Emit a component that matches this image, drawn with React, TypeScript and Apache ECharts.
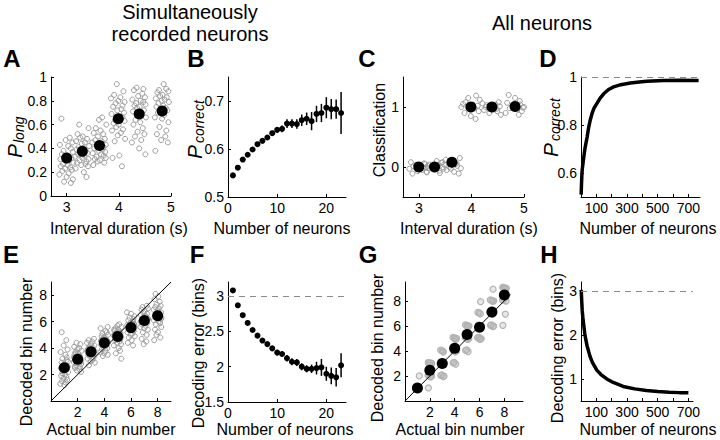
import React, { useEffect, useRef } from 'react';
import * as echarts from 'echarts';

const FONT = 'Liberation Sans, Arial, Helvetica, sans-serif';

// ---------- Panel A: P(long) per interval, simultaneously recorded ----------
const A_intervals = [3.0, 3.3, 3.63, 3.99, 4.39, 4.83];
const A_means = [0.32, 0.375, 0.425, 0.65, 0.69, 0.715];
const A_jitter = [-0.10, 0.06, -0.02, 0.11, -0.13, 0.03, 0.08, -0.06, 0.12, -0.09, 0.01, -0.04, 0.09, -0.12, 0.05, -0.01, 0.13, -0.07, 0.02, -0.11, 0.07, -0.03, 0.10, -0.08, 0.04, -0.14, 0.00, 0.12, -0.05, 0.08];
const A_trials = [
  [0.65, 0.49, 0.47, 0.45, 0.43, 0.42, 0.40, 0.38, 0.37, 0.35, 0.34, 0.33, 0.32, 0.31, 0.30, 0.29, 0.28, 0.27, 0.26, 0.25, 0.24, 0.23, 0.22, 0.21, 0.19, 0.18, 0.16, 0.14, 0.12, 0.11],
  [0.60, 0.57, 0.52, 0.50, 0.49, 0.48, 0.46, 0.45, 0.44, 0.42, 0.41, 0.40, 0.39, 0.38, 0.37, 0.36, 0.35, 0.34, 0.33, 0.32, 0.31, 0.30, 0.29, 0.28, 0.27, 0.26, 0.25, 0.23, 0.20, 0.16],
  [0.66, 0.64, 0.60, 0.57, 0.55, 0.53, 0.52, 0.50, 0.48, 0.47, 0.46, 0.45, 0.44, 0.43, 0.42, 0.41, 0.40, 0.39, 0.38, 0.37, 0.36, 0.35, 0.34, 0.33, 0.32, 0.31, 0.30, 0.29, 0.28, 0.26],
  [0.94, 0.88, 0.85, 0.83, 0.82, 0.80, 0.79, 0.78, 0.76, 0.75, 0.73, 0.72, 0.70, 0.69, 0.67, 0.66, 0.64, 0.63, 0.61, 0.60, 0.58, 0.56, 0.55, 0.53, 0.51, 0.48, 0.46, 0.34, 0.32, 0.25],
  [0.91, 0.90, 0.89, 0.86, 0.84, 0.83, 0.81, 0.80, 0.79, 0.78, 0.77, 0.76, 0.75, 0.74, 0.72, 0.71, 0.70, 0.68, 0.66, 0.64, 0.62, 0.60, 0.57, 0.54, 0.52, 0.50, 0.47, 0.45, 0.40, 0.35],
  [0.94, 0.90, 0.89, 0.88, 0.87, 0.85, 0.84, 0.83, 0.82, 0.81, 0.80, 0.79, 0.78, 0.76, 0.75, 0.74, 0.73, 0.72, 0.70, 0.68, 0.66, 0.65, 0.62, 0.58, 0.55, 0.52, 0.50, 0.47, 0.45, 0.38],
];

// ---------- Panel B: P(correct) vs number of neurons ----------
const B_n = [1, 2, 3, 4, 5, 6, 7, 8, 9, 10, 11, 12, 13, 14, 15, 16, 17, 18, 19, 20, 21, 22, 23];
const B_mean = [0.545, 0.561, 0.578, 0.588, 0.599, 0.61, 0.617, 0.624, 0.633, 0.64, 0.642, 0.653, 0.653, 0.652, 0.66, 0.663, 0.658, 0.673, 0.675, 0.686, 0.683, 0.683, 0.675];
const B_err = [0.002, 0.002, 0.003, 0.003, 0.004, 0.004, 0.005, 0.005, 0.005, 0.006, 0.007, 0.009, 0.009, 0.01, 0.012, 0.013, 0.019, 0.017, 0.019, 0.022, 0.021, 0.02, 0.044];

// ---------- Panel C: classification, all neurons ----------
const C_means = [0.0, 0.0, 0.08, 1.0, 1.0, 1.01];
const C_err = [0.01, 0.01, 0.06, 0.01, 0.01, 0.01];
const C_jitter = [-0.15, 0.10, -0.05, 0.17, -0.10, 0.04, 0.13, -0.18, 0.07, -0.02, 0.15, -0.12, 0.00, 0.09];
const C_trials = [
  [0.08, 0.06, 0.04, 0.02, 0.01, 0.0, -0.01, -0.03, -0.05, -0.07, -0.09, -0.11, 0.03, -0.02],
  [0.10, 0.07, 0.05, 0.03, 0.02, 0.0, -0.02, -0.04, -0.06, -0.08, -0.10, 0.01, -0.03, 0.04],
  [0.15, 0.12, 0.10, 0.06, 0.04, 0.02, 0.0, -0.02, -0.05, -0.08, -0.11, 0.08, 0.05, -0.03],
  [1.19, 1.15, 1.12, 1.08, 1.04, 1.02, 1.0, 0.98, 0.96, 0.93, 0.90, 0.85, 0.80, 1.05],
  [1.08, 1.06, 1.04, 1.02, 1.01, 1.0, 0.99, 0.97, 0.95, 0.93, 0.90, 0.87, 1.03, 0.96],
  [1.20, 1.15, 1.10, 1.07, 1.04, 1.02, 1.0, 0.98, 0.96, 0.93, 0.90, 0.87, 1.05, 0.99],
];

// ---------- Panel D: P(correct) vs number of neurons, all neurons ----------
const D_n = [1, 2, 3, 4, 6, 8, 11, 14, 17, 22, 28, 34, 40, 50, 60, 72, 85, 104, 125, 148, 180, 213, 260, 322, 380, 430, 539, 648, 767];
const D_p = [0.51, 0.53, 0.55, 0.565, 0.595, 0.615, 0.63, 0.645, 0.66, 0.685, 0.71, 0.73, 0.75, 0.79, 0.82, 0.848, 0.87, 0.89, 0.912, 0.93, 0.948, 0.959, 0.968, 0.975, 0.979, 0.982, 0.985, 0.986, 0.985];

// ---------- Panel E: decoded bin, simultaneously recorded ----------
const E_bins = [1, 2, 3, 4, 5, 6, 7, 8];
const E_means = [2.52, 3.15, 3.73, 4.4, 4.88, 5.55, 6.08, 6.45];
const E_jitter = [-0.20, 0.15, -0.05, 0.25, -0.28, 0.08, 0.18, -0.14, 0.27, -0.20, 0.02, -0.09, 0.20, -0.26, 0.11, -0.02, 0.29, -0.16, 0.05, -0.24, 0.15, -0.07, 0.22, -0.18, 0.09, -0.30, 0.00, 0.26, -0.11, 0.17];
const E_trials = [
  [5.2, 4.6, 4.2, 3.9, 3.7, 3.5, 3.3, 3.2, 3.0, 2.9, 2.8, 2.7, 2.6, 2.5, 2.4, 2.3, 2.2, 2.1, 2.0, 1.9, 1.8, 1.7, 1.6, 1.5, 1.4, 1.3, 1.2, 2.6, 2.3, 3.1],
  [4.4, 4.3, 4.1, 4.0, 3.9, 3.8, 3.7, 3.6, 3.5, 3.4, 3.3, 3.2, 3.1, 3.0, 2.95, 2.9, 2.8, 2.7, 2.6, 2.5, 2.4, 2.3, 2.2, 3.3, 3.1, 2.9, 3.6, 3.0, 2.6, 3.4],
  [4.7, 4.6, 4.5, 4.4, 4.3, 4.2, 4.1, 4.0, 3.95, 3.9, 3.85, 3.8, 3.75, 3.7, 3.65, 3.6, 3.55, 3.5, 3.45, 3.4, 3.3, 3.2, 3.1, 3.0, 2.9, 2.7, 3.8, 3.9, 3.6, 4.0],
  [5.6, 5.5, 5.3, 5.2, 5.1, 5.0, 4.9, 4.8, 4.7, 4.6, 4.55, 4.5, 4.45, 4.4, 4.35, 4.3, 4.25, 4.2, 4.1, 4.0, 3.9, 3.8, 3.7, 3.6, 3.5, 3.4, 4.4, 4.6, 4.2, 4.8],
  [5.8, 5.7, 5.6, 5.5, 5.4, 5.3, 5.2, 5.15, 5.1, 5.05, 5.0, 4.95, 4.9, 4.85, 4.8, 4.7, 4.6, 4.5, 4.4, 4.3, 4.2, 4.0, 3.8, 3.6, 3.2, 5.0, 5.2, 4.9, 4.7, 5.4],
  [6.7, 6.6, 6.4, 6.3, 6.2, 6.1, 6.0, 5.9, 5.8, 5.75, 5.7, 5.65, 5.6, 5.55, 5.5, 5.45, 5.4, 5.3, 5.2, 5.1, 5.0, 4.9, 4.8, 4.6, 4.4, 4.2, 5.6, 5.8, 5.4, 6.0],
  [7.2, 7.1, 7.0, 6.9, 6.8, 6.7, 6.6, 6.5, 6.4, 6.3, 6.2, 6.15, 6.1, 6.05, 6.0, 5.95, 5.9, 5.8, 5.7, 5.6, 5.5, 5.4, 5.2, 5.0, 4.7, 4.5, 4.3, 6.2, 6.0, 6.4],
  [8.1, 7.9, 7.7, 7.5, 7.3, 7.2, 7.1, 7.0, 6.9, 6.8, 6.7, 6.6, 6.5, 6.45, 6.4, 6.3, 6.2, 6.1, 6.0, 5.9, 5.8, 5.6, 5.4, 5.2, 5.0, 4.8, 4.6, 6.5, 6.7, 6.3],
];
const E_diag = [[0, 0], [9, 9]];

// ---------- Panel F: decoding error vs number of neurons ----------
const F_n = [1, 2, 3, 4, 5, 6, 7, 8, 9, 10, 11, 12, 13, 14, 15, 16, 17, 18, 19, 20, 21, 22, 23];
const F_mean = [3.08, 2.87, 2.73, 2.62, 2.52, 2.44, 2.37, 2.32, 2.26, 2.2, 2.18, 2.12, 2.07, 2.06, 2.0, 1.97, 1.97, 1.98, 1.99, 1.9, 1.87, 1.85, 2.02];
const F_err = [0.01, 0.01, 0.015, 0.02, 0.02, 0.025, 0.03, 0.03, 0.035, 0.04, 0.04, 0.045, 0.05, 0.05, 0.05, 0.05, 0.06, 0.09, 0.12, 0.1, 0.12, 0.13, 0.17];
const F_chance = 3;

// ---------- Panel G: decoded bin, all neurons ----------
const G_means = [1.03, 2.46, 3.0, 4.22, 5.3, 5.89, 7.1, 8.46];
const G_decoded = [
  [1, 1, 1, 1, 1, 1, 1, 1, 1, 2],
  [1, 2, 2, 2, 2, 2, 3, 3, 3, 3, 3, 3, 3],
  [2, 2, 2, 2, 3, 3, 3, 3, 3, 3, 4, 4, 4, 4],
  [3, 3, 3, 4, 4, 4, 4, 4, 5, 5, 5, 5, 5, 5],
  [4, 4, 4, 5, 5, 5, 5, 5, 6, 6, 6, 6, 6, 6],
  [5, 5, 5, 5, 5, 5, 6, 6, 6, 6, 7, 7, 7, 8],
  [6, 6, 6, 6, 7, 7, 7, 7, 7, 8, 8, 8, 8, 9],
  [6, 7, 8, 8, 8, 9, 9, 9, 9, 9, 9, 9, 9, 9],
];
const G_jx = [-0.12, 0.08, -0.04, 0.14, -0.15, 0.04, 0.11, -0.08, 0.00, 0.15, -0.13, 0.06, -0.02, 0.09];
const G_jy = [0.04, -0.06, 0.08, -0.02, 0.05, -0.08, 0.02, 0.06, -0.04, 0.00, 0.07, -0.05, 0.03, -0.07];
const G_diag = [[0, 0], [8.5, 8.5]];

// ---------- Panel H: decoding error, all neurons ----------
const H_n = [1, 2, 3, 5, 8, 12, 17, 25, 32, 39, 50, 60, 75, 90, 103, 130, 168, 210, 275, 350, 426, 500, 576, 640, 700];
const H_err = [3.02, 2.97, 2.9, 2.75, 2.55, 2.4, 2.25, 2.02, 1.88, 1.76, 1.62, 1.5, 1.37, 1.28, 1.2, 1.1, 1.0, 0.92, 0.83, 0.775, 0.74, 0.715, 0.70, 0.69, 0.685];
const H_chance = 3;
const D_chance = 1;

function axis(gridIndex: number, min: number, max: number, ticks: number[], labels?: number[]) {
  return {
    type: 'value',
    gridIndex,
    min,
    max,
    axisLine: { show: true, onZero: false, lineStyle: { color: '#000', width: 1 } },
    axisTick: { show: true, inside: true, length: 3, customValues: ticks, lineStyle: { color: '#000', width: 1 } },
    axisLabel: {
      show: true,
      customValues: labels || ticks,
      color: '#000',
      fontSize: 14,
      fontFamily: FONT,
      margin: 4,
      formatter: (v: number) => String(+Number(v).toFixed(3)),
    },
    splitLine: { show: false },
  };
}

const grayRing = { color: 'rgba(0,0,0,0)', borderColor: '#9c9c9c', borderWidth: 1, opacity: 1 };
const blackDot = { color: '#000', opacity: 1 };

function errorBars(xi: number, xs: number[], means: number[], errs: number[], width: number) {
  return {
    type: 'custom',
    xAxisIndex: xi,
    yAxisIndex: xi,
    silent: true,
    data: xs.map((x, i) => [x, means[i] - errs[i], means[i] + errs[i]]),
    renderItem: (_p: any, api: any) => {
      const a = api.coord([api.value(0), api.value(1)]);
      const b = api.coord([api.value(0), api.value(2)]);
      return {
        type: 'line',
        shape: { x1: a[0], y1: a[1], x2: b[0], y2: b[1] },
        style: { stroke: '#000', lineWidth: width },
      };
    },
  };
}

function txt(x: number, y: number, text: string, fontSize: number, o: any = {}) {
  return {
    type: 'text',
    x,
    y,
    rotation: o.rot || 0,
    silent: true,
    style: {
      text,
      fontSize,
      fontFamily: FONT,
      fontWeight: o.bold ? 'bold' : 'normal',
      fontStyle: o.italic ? 'italic' : 'normal',
      fill: '#000',
      align: o.align || 'center',
      verticalAlign: 'middle',
    },
  };
}

function buildOption() {
  const R = Math.PI / 2;
  const grids = [
    { left: 51, top: 77, width: 120, height: 119 },
    { left: 228, top: 77, width: 118, height: 120 },
    { left: 403, top: 77, width: 121, height: 120 },
    { left: 581, top: 77, width: 119, height: 120 },
    { left: 51, top: 282, width: 120, height: 119 },
    { left: 228, top: 282, width: 118, height: 120 },
    { left: 405, top: 282, width: 118, height: 119 },
    { left: 581, top: 282, width: 112, height: 119 },
  ].map((g) => ({ ...g, outerBoundsMode: 'none', containLabel: false }));

  const xAxis = [
    axis(0, 2.7, 5, [3, 4, 5]),
    axis(1, 0, 24, [0, 10, 20]),
    axis(2, 2.7, 5, [3, 4, 5]),
    axis(3, 0, 776, [100, 200, 300, 400, 500, 600, 700], [100, 300, 500, 700]),
    axis(4, 0, 9, [2, 4, 6, 8]),
    axis(5, 0, 24, [0, 10, 20]),
    axis(6, 0, 9.5, [2, 4, 6, 8]),
    axis(7, 0, 730, [100, 200, 300, 400, 500, 600, 700], [100, 300, 500, 700]),
  ];
  const yAxis = [
    axis(0, 0, 1, [0, 0.2, 0.4, 0.6, 0.8, 1]),
    axis(1, 0.5, 0.75, [0.5, 0.6, 0.7]),
    axis(2, -0.5, 1.5, [0, 1]),
    axis(3, 0.5, 1, [0.6, 0.8, 1]),
    axis(4, 0, 9, [2, 4, 6, 8]),
    axis(5, 1.5, 3.2, [1.5, 2, 2.5, 3]),
    axis(6, 0, 9.5, [2, 4, 6, 8]),
    axis(7, 0.5, 3.2, [1, 2, 3]),
  ];

  const dashed = (v: number) => ({
    silent: true,
    symbol: 'none',
    label: { show: false },
    lineStyle: { type: [6, 5], color: '#8a8a8a', width: 1 },
    data: [{ yAxis: v }],
  });

  const series: any[] = [
    // A
    {
      type: 'scatter', xAxisIndex: 0, yAxisIndex: 0, symbolSize: 5, itemStyle: grayRing, silent: true,
      data: A_trials.flatMap((ys, g) => ys.map((y, i) => [A_intervals[g] + A_jitter[(i + g * 7) % A_jitter.length], y])),
    },
    {
      type: 'scatter', xAxisIndex: 0, yAxisIndex: 0, symbolSize: 11, itemStyle: blackDot, silent: true,
      data: A_intervals.map((x, i) => [x, A_means[i]]),
    },
    // B
    errorBars(1, B_n, B_mean, B_err, 1.5),
    {
      type: 'scatter', xAxisIndex: 1, yAxisIndex: 1, symbolSize: 6, itemStyle: blackDot, silent: true,
      data: B_n.map((x, i) => [x, B_mean[i]]),
    },
    // C
    {
      type: 'scatter', xAxisIndex: 2, yAxisIndex: 2, symbolSize: 5, itemStyle: grayRing, silent: true,
      data: C_trials.flatMap((ys, g) => ys.map((y, i) => [A_intervals[g] + C_jitter[(i + g * 5) % C_jitter.length], y])),
    },
    errorBars(2, A_intervals, C_means, C_err, 2),
    {
      type: 'scatter', xAxisIndex: 2, yAxisIndex: 2, symbolSize: 11, itemStyle: blackDot, silent: true,
      data: A_intervals.map((x, i) => [x, C_means[i]]),
    },
    // D
    {
      type: 'line', xAxisIndex: 3, yAxisIndex: 3, showSymbol: false, silent: true,
      lineStyle: { color: '#000', width: 3.5 },
      data: D_n.map((n, i) => [n, D_p[i]]),
      markLine: dashed(D_chance),
    },
    // E
    {
      type: 'line', xAxisIndex: 4, yAxisIndex: 4, showSymbol: false, silent: true,
      lineStyle: { color: '#000', width: 1 }, data: E_diag,
    },
    {
      type: 'scatter', xAxisIndex: 4, yAxisIndex: 4, symbolSize: 5, itemStyle: grayRing, silent: true,
      data: E_trials.flatMap((ys, g) => ys.map((y, i) => [E_bins[g] + E_jitter[(i + g * 11) % E_jitter.length], y])),
    },
    {
      type: 'scatter', xAxisIndex: 4, yAxisIndex: 4, symbolSize: 11, itemStyle: blackDot, silent: true,
      data: E_bins.map((x, i) => [x, E_means[i]]),
    },
    // F
    errorBars(5, F_n, F_mean, F_err, 1.5),
    {
      type: 'scatter', xAxisIndex: 5, yAxisIndex: 5, symbolSize: 6, itemStyle: blackDot, silent: true,
      data: F_n.map((x, i) => [x, F_mean[i]]),
      markLine: dashed(F_chance),
    },
    // G
    {
      type: 'line', xAxisIndex: 6, yAxisIndex: 6, showSymbol: false, silent: true,
      lineStyle: { color: '#000', width: 1 }, data: G_diag,
    },
    {
      type: 'scatter', xAxisIndex: 6, yAxisIndex: 6, symbolSize: 6,
      itemStyle: { color: 'rgba(185,185,185,0.35)', borderColor: '#b3b3b3', borderWidth: 1.2, opacity: 1 }, silent: true,
      data: G_decoded.flatMap((vals, c) => vals.map((v, i) => [E_bins[c] + G_jx[i], v + G_jy[i]])),
    },
    {
      type: 'scatter', xAxisIndex: 6, yAxisIndex: 6, symbolSize: 11, itemStyle: blackDot, silent: true,
      data: E_bins.map((x, i) => [x, G_means[i]]),
    },
    // H
    {
      type: 'line', xAxisIndex: 7, yAxisIndex: 7, showSymbol: false, silent: true,
      lineStyle: { color: '#000', width: 3.5 },
      data: H_n.map((n, i) => [n, H_err[i]]),
      markLine: dashed(H_chance),
    },
  ];

  const graphic = [
    // titles
    txt(190, 12, 'Simultaneously', 20),
    txt(190, 34, 'recorded neurons', 20),
    txt(542, 23, 'All neurons', 20),
    // panel letters
    txt(12, 58, 'A', 24, { bold: true }),
    txt(196, 58, 'B', 24, { bold: true }),
    txt(367, 58, 'C', 24, { bold: true }),
    txt(548, 58, 'D', 24, { bold: true }),
    txt(11, 254, 'E', 24, { bold: true }),
    txt(197, 254, 'F', 24, { bold: true }),
    txt(368, 254, 'G', 24, { bold: true }),
    txt(549, 254, 'H', 24, { bold: true }),
    // x-axis titles
    txt(119, 228, 'Interval duration (s)', 16),
    txt(282, 228, 'Number of neurons', 16),
    txt(469, 228, 'Interval duration (s)', 16),
    txt(648, 228, 'Number of neurons', 16),
    txt(111, 429, 'Actual bin number', 16),
    txt(285, 429, 'Number of neurons', 16),
    txt(460, 429, 'Actual bin number', 16),
    txt(648, 429, 'Number of neurons', 16),
    // y-axis titles
    txt(14, 151, 'P', 21, { rot: R, italic: true }),
    txt(19, 143, 'long', 14, { rot: R, italic: true, align: 'left' }),
    txt(194, 152, 'P', 21, { rot: R, italic: true }),
    txt(199, 143, 'correct', 14, { rot: R, italic: true, align: 'left' }),
    txt(379, 130, 'Classification', 16, { rot: R }),
    txt(550, 150, 'P', 21, { rot: R, italic: true }),
    txt(555, 141, 'correct', 14, { rot: R, italic: true, align: 'left' }),
    txt(26, 352, 'Decoded bin number', 16, { rot: R }),
    txt(198, 353, 'Decoding error (bins)', 16, { rot: R }),
    txt(377, 348, 'Decoded bin number', 16, { rot: R }),
    txt(557, 348, 'Decoding error (bins)', 16, { rot: R }),
  ];

  return {
    animation: false,
    backgroundColor: '#fff',
    textStyle: { fontFamily: FONT },
    grid: grids,
    xAxis,
    yAxis,
    series,
    graphic,
  };
}

export default function App() {
  const ref = useRef<HTMLDivElement>(null);
  useEffect(() => {
    if (!ref.current) return;
    const chart = echarts.init(ref.current, null, { renderer: 'svg' });
    chart.setOption(buildOption() as any);
    return () => chart.dispose();
  }, []);
  return (
    <div
      ref={ref}
      style={{ position: 'absolute', left: 0, top: 0, width: 720, height: 440, background: '#fff' }}
    />
  );
}
